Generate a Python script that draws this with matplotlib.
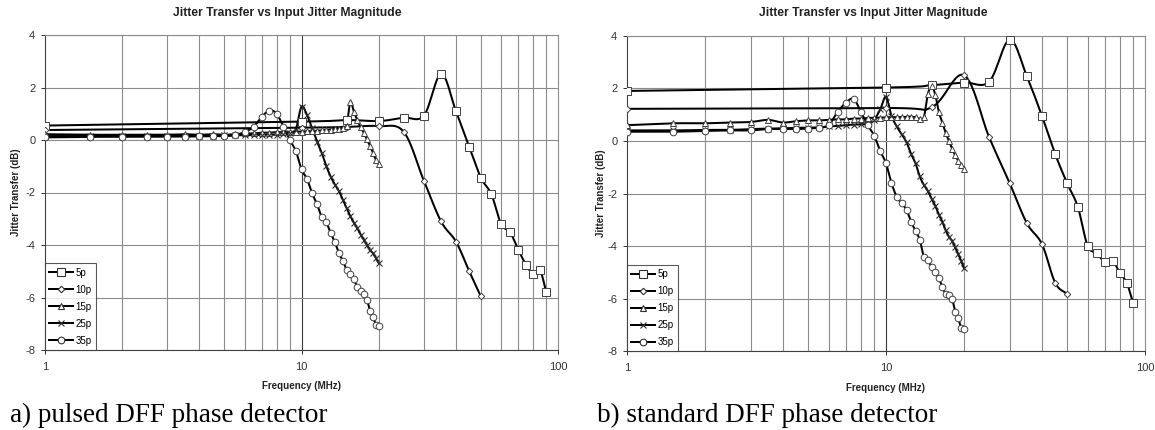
import matplotlib
matplotlib.use("Agg")
import matplotlib.pyplot as plt
import numpy as np
from matplotlib.ticker import FixedLocator, NullFormatter, FixedFormatter

# ---------------------------------------------------------------- data
series_names = ["5p", "10p", "15p", "25p", "35p"]

# coarse sweeps (MHz)
freq_5p = [1, 10, 15, 20, 25, 30, 35, 40, 45, 50, 55, 60, 65, 70, 75, 80, 85, 90]
freq_10p = [1, 10, 15, 20, 25, 30, 35, 40, 45, 50]
# fine sweep (MHz), used by 15p / 25p / 35p
freq_fine = [1, 1.5, 2, 2.5, 3, 3.5, 4, 4.5, 5, 5.5, 6, 6.5, 7, 7.5, 8, 8.5,
             9, 9.5, 10, 10.5, 11, 11.5, 12, 12.5, 13, 13.5, 14, 14.5, 15,
             15.5, 16, 16.5, 17, 17.5, 18, 18.5, 19, 19.5, 20]

# (a) pulsed DFF phase detector, jitter transfer in dB
pulsed_5p = [0.55, 0.70, 0.76, 0.72, 0.85, 0.93, 2.52, 1.10, -0.25, -1.43,
             -2.07, -3.21, -3.51, -4.18, -4.75, -5.10, -4.95, -5.80]
pulsed_10p = [0.38, 0.47, 0.50, 0.53, 0.32, -1.55, -3.10, -3.87, -4.98, -5.96]
pulsed_15p = [0.22, 0.20, 0.20, 0.20, 0.20, 0.22, 0.20, 0.22, 0.20, 0.22,
              0.25, 0.25, 0.28, 0.28, 0.30, 0.30, 0.30, 0.32, 0.32, 0.33,
              0.35, 0.35, 0.37, 0.38, 0.40, 0.42, 0.43, 0.45, 0.55, 1.45,
              1.08, 0.75, 0.50, 0.27, 0.02, -0.22, -0.50, -0.75, -0.93]
pulsed_25p = [0.15, 0.15, 0.15, 0.16, 0.16, 0.17, 0.17, 0.17, 0.18, 0.18,
              0.18, 0.19, 0.20, 0.20, 0.20, 0.22, 0.25, 0.40, 1.27, 0.95,
              0.45, -0.06, -0.50, -1.00, -1.40, -1.70, -1.95, -2.28, -2.60,
              -2.90, -3.15, -3.36, -3.60, -3.80, -4.00, -4.20, -4.31, -4.50,
              -4.69]
pulsed_35p = [0.10, 0.12, 0.12, 0.12, 0.13, 0.13, 0.14, 0.15, 0.15, 0.18,
              0.30, 0.50, 0.88, 1.12, 1.00, 0.50, 0.00, -0.41, -1.12, -1.48,
              -2.03, -2.45, -2.94, -3.14, -3.55, -3.90, -4.31, -4.60, -4.95,
              -5.10, -5.30, -5.61, -5.75, -5.85, -6.10, -6.50, -6.75, -7.03,
              -7.07]

# (b) standard DFF phase detector, jitter transfer in dB
standard_5p = [1.90, 2.03, 2.12, 2.22, 2.25, 3.85, 2.45, 0.95, -0.50, -1.60,
               -2.50, -3.98, -4.27, -4.60, -4.55, -5.03, -5.39, -6.17]
standard_10p = [1.22, 1.25, 1.28, 2.50, 0.15, -1.60, -3.13, -3.92, -5.39, -5.82]
standard_15p = [0.60, 0.67, 0.67, 0.70, 0.72, 0.80, 0.70, 0.75, 0.78, 0.78,
                0.80, 0.82, 0.82, 0.85, 0.85, 0.87, 0.88, 0.88, 0.90, 0.90,
                0.90, 0.90, 0.92, 0.92, 0.90, 0.85, 0.90, 1.77, 2.10, 1.75,
                1.10, 0.70, 0.30, 0.00, -0.30, -0.55, -0.75, -0.90, -1.06]
standard_25p = [0.40, 0.40, 0.42, 0.42, 0.45, 0.47, 0.48, 0.50, 0.50, 0.52,
                0.55, 0.57, 0.60, 0.62, 0.63, 0.65, 0.80, 1.20, 1.68, 0.95,
                0.55, 0.25, -0.05, -0.50, -0.85, -1.35, -1.67, -1.90, -2.20,
                -2.47, -2.80, -3.07, -3.40, -3.64, -3.80, -4.05, -4.30, -4.55,
                -4.84]
standard_35p = [0.35, 0.35, 0.38, 0.40, 0.40, 0.45, 0.45, 0.45, 0.47, 0.50,
                0.60, 1.10, 1.45, 1.60, 1.10, 0.60, 0.20, -0.38, -0.85, -1.60,
                -2.12, -2.37, -2.62, -3.07, -3.42, -3.76, -4.40, -4.52, -4.80,
                -5.00, -5.20, -5.56, -5.80, -5.85, -6.00, -6.49, -6.72, -7.10,
                -7.15]

y_ticks = [-8, -6, -4, -2, 0, 2, 4]
x_major = [1, 10, 100]
x_major_labels = ["1", "10", "100"]
x_grid = [2, 3, 4, 5, 6, 7, 8, 9, 20, 30, 40, 50, 60, 70, 80, 90]

title_text = "Jitter Transfer vs Input Jitter Magnitude"
ylabel_text = "Jitter Transfer (dB)"
xlabel_text = "Frequency (MHz)"
captions = ["a) pulsed DFF phase detector", "b) standard DFF phase detector"]

# ---------------------------------------------------------------- style
markers = {"5p": ("s", 5.2), "10p": ("D", 3.3), "15p": ("^", 4.8),
           "25p": ("x", 4.8), "35p": ("o", 4.8)}
sans = ["Liberation Sans", "DejaVu Sans"]
serif = ["Liberation Serif", "DejaVu Serif"]
grid_col = "#8c8c8c"
decade_px = 9.7  # dB-equivalent width of one decade, for the smoothing


def smooth(xs, ys, steps=14):
    """Catmull-Rom curve through the points, in log-frequency space."""
    u = np.log10(np.asarray(xs, float)) * decade_px
    v = np.asarray(ys, float)
    if len(u) < 3:
        return np.asarray(xs, float), v
    pu = np.concatenate([[2 * u[0] - u[1]], u, [2 * u[-1] - u[-2]]])
    pv = np.concatenate([[2 * v[0] - v[1]], v, [2 * v[-1] - v[-2]]])
    out_u, out_v = [u[0]], [v[0]]
    t = np.linspace(0, 1, steps + 1)[1:]
    for i in range(1, len(pu) - 2):
        p0u, p1u, p2u, p3u = pu[i - 1:i + 3]
        p0v, p1v, p2v, p3v = pv[i - 1:i + 3]
        t2, t3 = t * t, t * t * t
        cu = 0.5 * ((2 * p1u) + (-p0u + p2u) * t + (2 * p0u - 5 * p1u + 4 * p2u - p3u) * t2
                    + (-p0u + 3 * p1u - 3 * p2u + p3u) * t3)
        cv = 0.5 * ((2 * p1v) + (-p0v + p2v) * t + (2 * p0v - 5 * p1v + 4 * p2v - p3v) * t2
                    + (-p0v + 3 * p1v - 3 * p2v + p3v) * t3)
        out_u.extend(cu)
        out_v.extend(cv)
    return 10 ** (np.asarray(out_u) / decade_px), np.asarray(out_v)


def draw_panel(ax, data):
    ax.set_xscale("log")
    ax.set_xlim(1, 100)
    ax.set_ylim(-8, 4)

    for xv in x_grid:
        ax.axvline(xv, color=grid_col, lw=0.8, zorder=0)
    ax.axvline(10, color="#3a3a3a", lw=0.8, zorder=0)
    for yv in y_ticks:
        ax.axhline(yv, color=grid_col, lw=0.8, zorder=0)

    handles = []
    for name in series_names:
        xs, ys = data[name]
        m, ms = markers[name]
        sx, sy = smooth(xs, ys)
        ax.plot(sx, sy, color="black", lw=1.45, zorder=3, solid_capstyle="round")
        if m == "x":
            ax.plot(xs, ys, ls="none", marker=m, ms=ms, mew=0.8,
                    mec="#303030", zorder=4)
        else:
            ax.plot(xs, ys, ls="none", marker=m, ms=ms, mew=0.7,
                    mec="#404040", mfc="white", zorder=4)
        h, = ax.plot([], [], color="black", lw=1.45, marker=m, ms=ms,
                     mew=0.8, mec="#303030",
                     mfc=("none" if m == "x" else "white"), label=name)
        handles.append(h)

    ax.xaxis.set_major_locator(FixedLocator(x_major))
    ax.xaxis.set_major_formatter(FixedFormatter(x_major_labels))
    ax.xaxis.set_minor_locator(FixedLocator(x_grid))
    ax.xaxis.set_minor_formatter(NullFormatter())
    ax.set_yticks(y_ticks)
    ax.set_yticklabels([str(v) for v in y_ticks])
    ax.tick_params(axis="x", which="major", length=3, width=0.7, pad=5.5,
                   labelsize=8, colors="#333333")
    ax.tick_params(axis="x", which="minor", length=0)
    ax.tick_params(axis="y", length=3, width=0.7, pad=4, labelsize=8,
                   colors="#333333")
    for lab in ax.get_xticklabels() + ax.get_yticklabels():
        lab.set_family(sans)

    for side in ("top", "right"):
        ax.spines[side].set_color(grid_col)
        ax.spines[side].set_linewidth(0.8)
    for side in ("left", "bottom"):
        ax.spines[side].set_color("#404040")
        ax.spines[side].set_linewidth(0.8)

    leg = ax.legend(handles=handles, loc="lower left", borderaxespad=0,
                    handlelength=2.4, handletextpad=0.3,
                    labelspacing=0.72, borderpad=0.45, frameon=True,
                    fancybox=False, prop={"family": sans, "size": 7})
    leg.get_frame().set_edgecolor("#303030")
    leg.get_frame().set_linewidth(0.8)
    leg.set_zorder(6)

    ax.set_ylabel(ylabel_text, family=sans, weight="bold", size=7,
                  color="#222222")
    ax.text(0.5, -0.115, xlabel_text, transform=ax.transAxes, ha="center",
            va="center", family=sans, weight="bold", size=7, color="#222222")


fig = plt.figure(figsize=(11.55, 4.3), dpi=100)
W, H = 1155.0, 430.0

ax_a = fig.add_axes([45 / W, (H - 350) / H, 513 / W, 315 / H])
ax_b = fig.add_axes([627 / W, (H - 351.4) / H, 518 / W, 315.7 / H])

draw_panel(ax_a, {"5p": (freq_5p, pulsed_5p), "10p": (freq_10p, pulsed_10p),
                  "15p": (freq_fine, pulsed_15p), "25p": (freq_fine, pulsed_25p),
                  "35p": (freq_fine, pulsed_35p)})
draw_panel(ax_b, {"5p": (freq_5p, standard_5p), "10p": (freq_10p, standard_10p),
                  "15p": (freq_fine, standard_15p), "25p": (freq_fine, standard_25p),
                  "35p": (freq_fine, standard_35p)})

ax_a.yaxis.set_label_coords((21.5 - 45) / 513, 0.5)
ax_b.yaxis.set_label_coords((606 - 627) / 518, 0.5)

fig.text(287 / W, 1 - 13 / H, title_text, ha="center", va="center",
         family=sans, weight="bold", size=8.7, color="#222222")
fig.text(873 / W, 1 - 13 / H, title_text, ha="center", va="center",
         family=sans, weight="bold", size=8.7, color="#222222")

fig.text(10 / W, 1 - 422 / H, captions[0], ha="left", va="baseline",
         family=serif, size=19.5, color="black")
fig.text(597 / W, 1 - 422 / H, captions[1], ha="left", va="baseline",
         family=serif, size=19.5, color="black")

fig.savefig("out.png", dpi=100, facecolor="white")
